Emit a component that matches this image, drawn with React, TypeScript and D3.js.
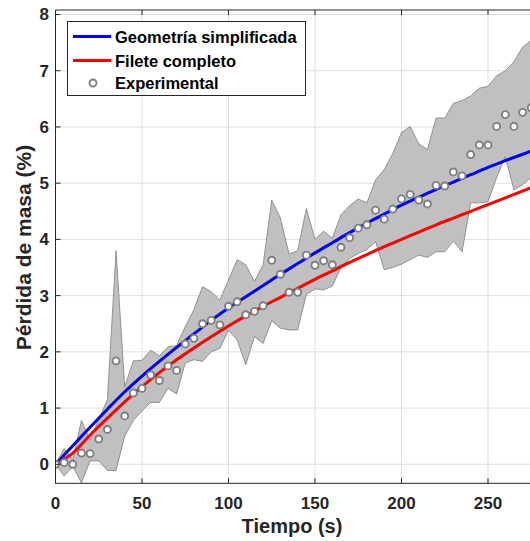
import React from "react";
import * as d3 from "d3";

const TIME = [0, 5, 10, 15, 20, 25, 30, 35, 40, 45, 50, 55, 60, 65, 70, 75, 80, 85, 90, 95, 100, 105, 110, 115, 120, 125, 130, 135, 140, 145, 150, 155, 160, 165, 170, 175, 180, 185, 190, 195, 200, 205, 210, 215, 220, 225, 230, 235, 240, 245, 250, 255, 260, 265, 270, 275];

const EXPERIMENTAL = [0.0, 0.03, 0.0, 0.2, 0.19, 0.45, 0.62, 1.84, 0.86, 1.27, 1.35, 1.59, 1.49, 1.75, 1.67, 2.14, 2.24, 2.5, 2.56, 2.48, 2.81, 2.89, 2.66, 2.72, 2.82, 3.63, 3.38, 3.06, 3.06, 3.72, 3.54, 3.62, 3.55, 3.86, 4.03, 4.2, 4.26, 4.52, 4.36, 4.54, 4.72, 4.8, 4.7, 4.63, 4.96, 4.95, 5.2, 5.13, 5.51, 5.68, 5.68, 6.01, 6.22, 6.01, 6.26, 6.34];

const BAND_UPPER = [0.0, 0.28, 0.08, 0.78, 0.43, 0.8, 1.15, 3.8, 1.38, 1.84, 1.85, 2.03, 1.93, 2.09, 2.11, 2.45, 2.75, 3.16, 3.07, 2.92, 3.28, 3.64, 3.55, 3.25, 3.55, 4.7, 4.38, 3.74, 3.8, 4.55, 4.0, 4.15, 4.02, 4.44, 4.6, 4.72, 4.65, 5.06, 5.24, 5.53, 5.9, 6.01, 5.7, 5.6, 6.16, 6.16, 6.42, 6.47, 6.55, 6.69, 6.72, 6.91, 7.0, 7.16, 7.42, 7.54];

const BAND_LOWER = [0.0, -0.21, -0.04, -0.33, 0.06, 0.06, -0.11, -0.11, 0.5, 0.78, 0.95, 1.1, 1.1, 1.35, 1.25, 1.8, 1.86, 1.83, 2.0, 2.06, 2.39, 2.21, 1.77, 2.27, 2.15, 2.55, 2.42, 2.39, 2.39, 3.02, 3.12, 3.1, 3.17, 3.5, 3.66, 3.75, 3.82, 3.96, 3.46, 3.5, 3.56, 3.64, 3.72, 3.68, 3.78, 3.78, 3.97, 3.78, 4.65, 4.65, 4.67, 5.1, 5.47, 4.88, 4.97, 5.1];

const MODEL_TIME = [0, 10, 20, 30, 40, 50, 60, 70, 80, 90, 100, 110, 120, 130, 140, 150, 160, 170, 180, 190, 200, 210, 220, 230, 240, 250, 260, 275];
const GEOMETRIA = [0, 0.33, 0.66, 0.98, 1.29, 1.57, 1.83, 2.08, 2.32, 2.56, 2.78, 2.98, 3.18, 3.38, 3.57, 3.76, 3.94, 4.12, 4.29, 4.45, 4.61, 4.75, 4.89, 5.02, 5.15, 5.28, 5.4, 5.57];
const FILETE = [0, 0.2, 0.52, 0.82, 1.11, 1.38, 1.63, 1.86, 2.07, 2.27, 2.46, 2.64, 2.81, 2.97, 3.13, 3.29, 3.44, 3.59, 3.73, 3.87, 4.0, 4.13, 4.26, 4.38, 4.5, 4.62, 4.74, 4.92];

const X_TICKS = [0, 50, 100, 150, 200, 250];
const Y_TICKS = [0, 1, 2, 3, 4, 5, 6, 7, 8];

const W = 530;
const H = 541;
const LEFT = 55.5;
const TOP = 10;
const BOTTOM = 483.3;
const RIGHT = 574.5;
const FONT = "'Liberation Sans', Arial, Helvetica, sans-serif";
const AX = "#262626";

export default function App() {
  const x = d3.scaleLinear().domain([0, 300]).range([LEFT, RIGHT]);
  const y = d3.scaleLinear().domain([-0.338, 8.08]).range([BOTTOM, TOP]);

  const bandData = TIME.map((t, i) => ({ t, lo: BAND_LOWER[i], hi: BAND_UPPER[i] }));
  const area = d3
    .area<{ t: number; lo: number; hi: number }>()
    .x((d) => x(d.t))
    .y0((d) => y(d.lo))
    .y1((d) => y(d.hi));

  const line = d3
    .line<[number, number]>()
    .x((d) => x(d[0]))
    .y((d) => y(d[1]))
    .curve(d3.curveCatmullRom.alpha(0.5));

  const geo = MODEL_TIME.map((t, i) => [t, GEOMETRIA[i]] as [number, number]);
  const fil = MODEL_TIME.map((t, i) => [t, FILETE[i]] as [number, number]);

  return (
    <svg
      width={W}
      height={H}
      style={{ position: "absolute", left: 0, top: 0, background: "#fff" }}
      fontFamily={FONT}
    >
      <defs>
        <clipPath id="plot">
          <rect x={LEFT} y={TOP} width={RIGHT - LEFT} height={BOTTOM - TOP} />
        </clipPath>
      </defs>
      <rect x={0} y={0} width={W} height={H} fill="#fff" />
      <g stroke="#dfdfdf" strokeWidth={1}>
        {X_TICKS.map((t) => (
          <line key={"gx" + t} x1={x(t)} x2={x(t)} y1={TOP} y2={BOTTOM} />
        ))}
        {Y_TICKS.map((v) => (
          <line key={"gy" + v} x1={LEFT} x2={RIGHT} y1={y(v)} y2={y(v)} />
        ))}
      </g>
      <g clipPath="url(#plot)">
        <path d={area(bandData) || ""} fill="#c0c0c0" stroke="#7f7f7f" strokeWidth={0.8} />
        <path d={line(geo) || ""} fill="none" stroke="#0000ff" strokeWidth={3} />
        <path d={line(fil) || ""} fill="none" stroke="#ff0000" strokeWidth={3} />
        {TIME.map((t, i) => (
          <circle
            key={"p" + t}
            cx={x(t)}
            cy={y(EXPERIMENTAL[i])}
            r={3.5}
            fill="#fff"
            stroke="#7f7f7f"
            strokeWidth={1.9}
          />
        ))}
      </g>
      <g stroke={AX} strokeWidth={1}>
        <line x1={LEFT} x2={RIGHT} y1={BOTTOM} y2={BOTTOM} />
        <line x1={LEFT} x2={RIGHT} y1={TOP} y2={TOP} />
        <line x1={LEFT} x2={LEFT} y1={TOP} y2={BOTTOM} />
        {X_TICKS.map((t) => (
          <g key={"tx" + t}>
            <line x1={x(t)} x2={x(t)} y1={BOTTOM} y2={BOTTOM - 5} />
            <line x1={x(t)} x2={x(t)} y1={TOP} y2={TOP + 5} />
          </g>
        ))}
        {Y_TICKS.map((v) => (
          <line key={"ty" + v} x1={LEFT} x2={LEFT + 5} y1={y(v)} y2={y(v)} />
        ))}
      </g>
      <g fill={AX} fontSize={17} fontWeight="bold">
        {X_TICKS.map((t) => (
          <text key={"lx" + t} x={x(t)} y={509} textAnchor="middle">
            {t}
          </text>
        ))}
        {Y_TICKS.map((v) => (
          <text key={"ly" + v} x={49} y={y(v) + 6} textAnchor="end">
            {v}
          </text>
        ))}
      </g>
      <text x={292} y={533} textAnchor="middle" fontSize={20} fontWeight="bold" fill={AX}>
        Tiempo (s)
      </text>
      <text
        transform={`translate(31,${(143 + 352) / 2}) rotate(-90)`}
        textAnchor="middle"
        fontSize={21}
        fontWeight="bold"
        fill={AX}
      >
        Pérdida de masa (%)
      </text>
      <g>
        <rect x={67.5} y={21.5} width={238} height={74} fill="#fff" stroke={AX} strokeWidth={1} />
        <line x1={73} x2={111} y1={36.5} y2={36.5} stroke="#0000ff" strokeWidth={3} />
        <line x1={73} x2={111} y1={60.5} y2={60.5} stroke="#ff0000" strokeWidth={3} />
        <circle cx={93} cy={83} r={3.5} fill="#fff" stroke="#7f7f7f" strokeWidth={1.9} />
        <g fontSize={16.5} fontWeight="bold" fill="#000">
          <text x={115} y={42.5}>Geometría simplificada</text>
          <text x={115} y={66.5}>Filete completo</text>
          <text x={115} y={89}>Experimental</text>
        </g>
      </g>
    </svg>
  );
}
